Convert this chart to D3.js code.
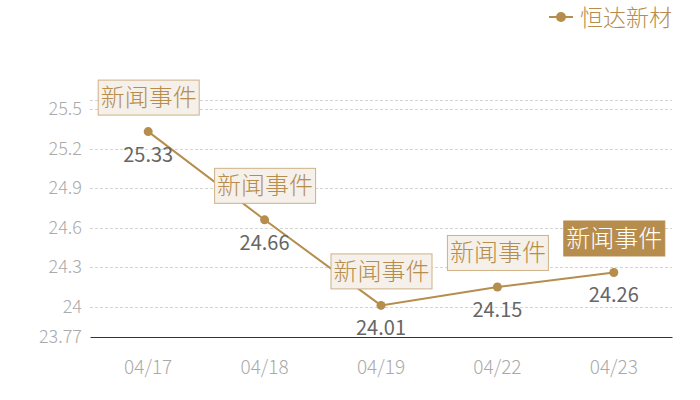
<!DOCTYPE html>
<html>
<head>
<meta charset="utf-8">
<script src="https://cdn.jsdelivr.net/npm/d3@7"></script>
<style>
body { margin: 0; background: #fff; }
text { font-family: "Noto Sans CJK SC", "Noto Sans", sans-serif; font-weight: 300; }
</style>
</head>
<body>
<div id="plot"></div>
<script>
// data
var dates = ["04/17", "04/18", "04/19", "04/22", "04/23"]
var prices = [25.33, 24.66, 24.01, 24.15, 24.26]
var yTicks = [23.77, 24, 24.3, 24.6, 24.9, 25.2, 25.5]
var yMin = 23.77
var yMax = 25.57
var seriesName = "恒达新材"
var eventText = "新闻事件"
var activeEvent = 4

var gold = "#b68d4c"

// svg dimensions
var width = 700, height = 400
var margin = {top: 100, right: 28, bottom: 63, left: 90}
var w = width - margin.left - margin.right
var h = height - margin.top - margin.bottom

var svg = d3.select("#plot").append("svg")
    .attr("width", width)
    .attr("height", height)

var g = svg.append("g").attr("transform", "translate(" + margin.left + "," + margin.top + ")")

var x = d3.scaleBand().domain(dates).range([0, w])
var y = d3.scaleLinear().domain([yMin, yMax]).range([h, 0])

// grid lines (ticks plus top of range)
g.selectAll(".grid")
    .data(yTicks.slice(1).concat([yMax]))
    .enter().append("line")
    .attr("x1", 0).attr("x2", w)
    .attr("y1", function (d) { return Math.round(y(d)) + 0.5 })
    .attr("y2", function (d) { return Math.round(y(d)) + 0.5 })
    .attr("stroke", "#d4d4d4")
    .attr("stroke-dasharray", "3,2")

// y axis labels
var yAxis = g.append("g")
    .call(d3.axisLeft(y).tickValues(yTicks).tickSize(0).tickPadding(8).tickFormat(function (d) { return String(d) }))
yAxis.select(".domain").remove()
yAxis.selectAll("text")
    .attr("fill", "#aaa")
    .style("font-size", "18px")

// x axis
var xAxis = g.append("g")
    .attr("transform", "translate(0," + h + ")")
    .call(d3.axisBottom(x).tickSize(0).tickPadding(24))
xAxis.select(".domain").attr("stroke", "#333").attr("stroke-width", 1.2)
xAxis.selectAll("text")
    .attr("fill", "#aaa")
    .style("font-size", "19px")

// line
var cx = function (d, i) { return x(dates[i]) + x.bandwidth() / 2 }
var line = d3.line()
    .x(function (d, i) { return cx(d, i) })
    .y(function (d) { return y(d) })

g.append("path")
    .datum(prices)
    .attr("fill", "none")
    .attr("stroke", gold)
    .attr("stroke-width", 2)
    .attr("d", line)

g.selectAll(".dot")
    .data(prices)
    .enter().append("circle")
    .attr("cx", cx)
    .attr("cy", function (d) { return y(d) })
    .attr("r", 4.5)
    .attr("fill", gold)

// value labels
g.selectAll(".val")
    .data(prices)
    .enter().append("text")
    .attr("x", cx)
    .attr("y", function (d) { return y(d) + 30 })
    .attr("text-anchor", "middle")
    .attr("fill", "#666")
    .style("font-size", "20px")
    .style("font-weight", 400)
    .text(function (d) { return d.toFixed(2) })

// event boxes
var boxW = 101, boxH = 35
var ev = g.selectAll(".event")
    .data(prices)
    .enter().append("g")
    .attr("transform", function (d, i) {
        return "translate(" + (cx(d, i) - boxW / 2) + "," + (y(d) - 17 - boxH) + ")"
    })
ev.append("rect")
    .attr("x", 0.5).attr("y", 0.5)
    .attr("width", boxW).attr("height", boxH)
    .attr("fill", function (d, i) { return i == activeEvent ? gold : "#f5f0ea" })
    .attr("stroke", function (d, i) { return i == activeEvent ? gold : "#cfb186" })
ev.append("text")
    .attr("x", boxW / 2 + 0.5)
    .attr("y", boxH / 2 + 9)
    .attr("text-anchor", "middle")
    .attr("fill", function (d, i) { return i == activeEvent ? "#fff" : gold })
    .style("font-size", "24px")
    .text(eventText)

// legend
var lg = svg.append("g").attr("transform", "translate(549,17)")
lg.append("line").attr("x1", 0).attr("x2", 24).attr("stroke", gold).attr("stroke-width", 2)
lg.append("circle").attr("cx", 12).attr("r", 5).attr("fill", gold)
lg.append("text")
    .attr("x", 31).attr("y", 8.5)
    .attr("fill", gold)
    .style("font-size", "23px")
    .text(seriesName)
</script>
</body>
</html>
